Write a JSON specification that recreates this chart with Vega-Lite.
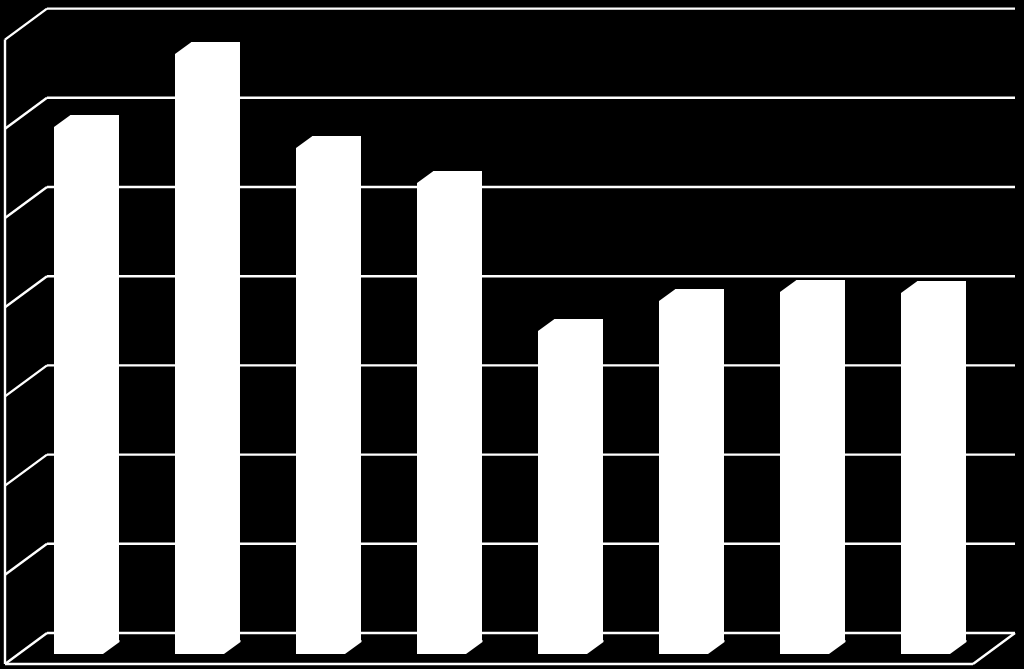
{
  "$schema": "https://vega.github.io/schema/vega-lite/v6.json",
  "width": 1024,
  "height": 669,
  "padding": 0,
  "autosize": {"type": "fit", "contains": "padding"},
  "background": "black",
  "config": {"view": {"stroke": null}, "axis": {"disable": true}},
  "datasets": {
    "bars": [
      {"cat": 1, "value": 5.908},
      {"cat": 2, "value": 6.726},
      {"cat": 3, "value": 5.673},
      {"cat": 4, "value": 5.28},
      {"cat": 5, "value": 3.621},
      {"cat": 6, "value": 3.957},
      {"cat": 7, "value": 4.058},
      {"cat": 8, "value": 4.047}
    ],
    "levels": [
      {"level": 0},
      {"level": 1},
      {"level": 2},
      {"level": 3},
      {"level": 4},
      {"level": 5},
      {"level": 6},
      {"level": 7}
    ],
    "base": [{"level": 0}]
  },
  "encoding": {
    "x": {"type": "quantitative", "scale": {"domain": [0.4587, 8.9215], "nice": false, "zero": false, "padding": 0}},
    "y": {"type": "quantitative", "scale": {"domain": [-0.056, 7.444], "nice": false, "zero": false}}
  },
  "layer": [
    {
      "data": {"name": "levels"},
      "mark": {"type": "rule", "color": "white", "strokeWidth": 2.4, "xOffset": 42, "x2Offset": 42, "yOffset": -31},
      "encoding": {
        "x": {"datum": 0.5},
        "x2": {"datum": 8.5},
        "y": {"field": "level"}
      }
    },
    {
      "data": {"name": "levels"},
      "mark": {"type": "rule", "color": "white", "strokeWidth": 2.4, "x2Offset": 42, "y2Offset": -31},
      "encoding": {
        "x": {"datum": 0.5},
        "x2": {"datum": 0.5},
        "y": {"field": "level"},
        "y2": {"field": "level"}
      }
    },
    {
      "data": {"name": "base"},
      "mark": {"type": "rule", "color": "white", "strokeWidth": 2.4},
      "encoding": {
        "x": {"datum": 0.5},
        "y": {"datum": 0},
        "y2": {"datum": 7}
      }
    },
    {
      "data": {"name": "base"},
      "mark": {"type": "rule", "color": "white", "strokeWidth": 2.4},
      "encoding": {
        "x": {"datum": 0.5},
        "x2": {"datum": 8.5},
        "y": {"field": "level"}
      }
    },
    {
      "data": {"name": "base"},
      "mark": {"type": "rule", "color": "white", "strokeWidth": 2.4, "x2Offset": 42, "y2Offset": -31},
      "encoding": {
        "x": {"datum": 8.5},
        "x2": {"datum": 8.5},
        "y": {"field": "level"},
        "y2": {"field": "level"}
      }
    },
    {
      "data": {"name": "bars"},
      "mark": {"type": "bar", "color": "white", "size": 49, "xOffset": 13, "yOffset": -10, "y2Offset": -10},
      "encoding": {
        "x": {"field": "cat"},
        "y": {"field": "value", "stack": null},
        "y2": {"datum": 0}
      }
    },
    {
      "data": {"name": "bars"},
      "mark": {"type": "bar", "color": "white", "size": 48.5, "xOffset": 29.25, "yOffset": -22, "y2Offset": -22},
      "encoding": {
        "x": {"field": "cat"},
        "y": {"field": "value", "stack": null},
        "y2": {"datum": 0}
      }
    },
    {
      "data": {"name": "bars"},
      "mark": {"type": "point", "filled": true, "opacity": 1, "color": "white", "size": 4, "shape": "M-24.5,-10L-8,-22L-6,-22L-6,-8L-24.5,-8Z", "xOffset": 13},
      "encoding": {
        "x": {"field": "cat"},
        "y": {"field": "value"}
      }
    },
    {
      "data": {"name": "bars"},
      "mark": {"type": "point", "filled": true, "opacity": 1, "color": "white", "size": 4, "shape": "M22.5,-10L24.5,-10L41,-22L41,-24L22.5,-24Z", "xOffset": 13},
      "encoding": {
        "x": {"field": "cat"},
        "y": {"datum": 0}
      }
    }
  ]
}
